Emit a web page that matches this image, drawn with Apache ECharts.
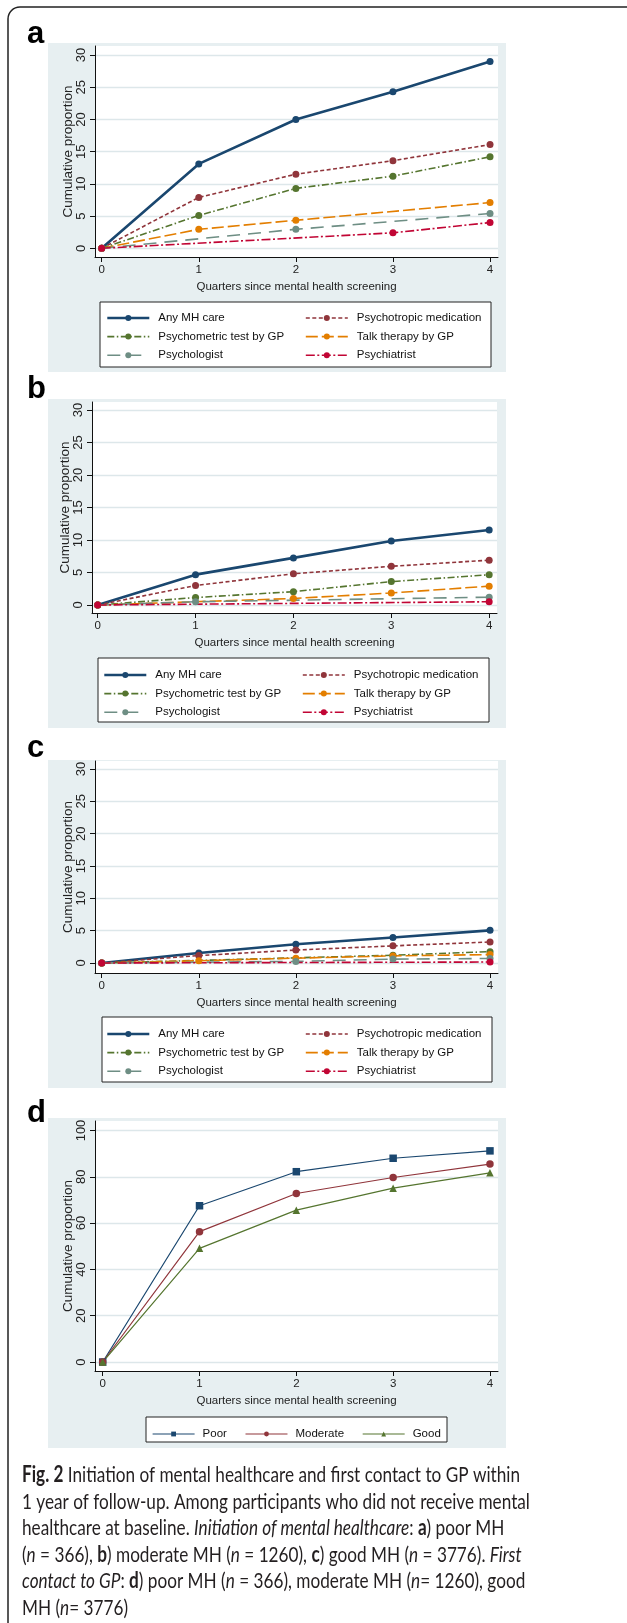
<!DOCTYPE html>
<html>
<head>
<meta charset="utf-8">
<script src="https://cdn.jsdelivr.net/npm/echarts@6/dist/echarts.min.js"></script>
<style>
  html, body { margin: 0; padding: 0; background: #fff; }
  #chart { width: 627px; height: 1623px; }
</style>
</head>
<body>
<div id="chart"></div>
<script>
// x categories (quarters) and tick labels
const QUARTERS = [0, 1, 2, 3, 4];
const Y_TICKS_ABC = [0, 5, 10, 15, 20, 25, 30];
const Y_TICKS_D = [0, 20, 40, 60, 80, 100];

const NAMES = ['Any MH care', 'Psychotropic medication', 'Psychometric test by GP',
               'Talk therapy by GP', 'Psychologist', 'Psychiatrist'];
const NAMES_D = ['Poor', 'Moderate', 'Good'];

// panel a: poor MH (null = no marker, line drawn through)
const a_any     = [0, 13.1, 20.0, 24.3, 29.0];
const a_med     = [0, 7.9, 11.5, 13.6, 16.1];
const a_test    = [0, 5.1, 9.3, 11.2, 14.2];
const a_talk    = [0, 2.95, 4.35, null, 7.1];
const a_psychol = [0, null, 2.95, null, 5.4];
const a_psychia = [0, null, null, 2.4, 4.0];

// panel b: moderate MH
const b_any     = [0, 4.67, 7.25, 9.85, 11.55];
const b_med     = [0, 3.0, 4.8, 5.95, 6.9];
const b_test    = [0, 1.15, 2.05, 3.6, 4.65];
const b_talk    = [0, null, 1.0, 1.85, 2.9];
const b_psychol = [0, 0.5, null, null, 1.2];
const b_psychia = [0, null, null, null, 0.5];

// panel c: good MH
const c_any     = [0, 1.55, 2.9, 3.95, 5.05];
const c_med     = [0, 1.15, 2.0, 2.65, 3.25];
const c_test    = [0, null, null, 1.2, 1.75];
const c_talk    = [0, 0.35, 0.75, 1.1, 1.3];
const c_psychol = [0, null, 0.25, 0.6, 0.7];
const c_psychia = [0, null, null, null, 0.15];

// panel d: first contact to GP
const d_poor     = [0, 67.5, 82.2, 88.0, 91.2];
const d_moderate = [0, 56.3, 72.8, 79.7, 85.5];
const d_good     = [0, 49.1, 65.6, 75.1, 81.7];

const PANEL_VALUES = [
  [a_any, a_med, a_test, a_talk, a_psychol, a_psychia],
  [b_any, b_med, b_test, b_talk, b_psychol, b_psychia],
  [c_any, c_med, c_test, c_talk, c_psychol, c_psychia]
];
const D_VALUES = [d_poor, d_moderate, d_good];

const X_TITLE = 'Quarters since mental health screening';
const Y_TITLE = 'Cumulative proportion';

// styles (Stata s2color)
const FONT = '"Liberation Sans", Arial, sans-serif';
const COLORS = ['#1a476f', '#90353b', '#55752f', '#e37e00', '#6e8e84', '#c10534'];
const DASHES = ['solid', [4, 2.5], [7, 2.5, 1.5, 2.5], [12, 4], [13, 8], [9, 2.5, 2, 2.5]];
const WIDTHS = [2.6, 1.6, 1.6, 1.6, 1.6, 1.6];
const COLORS_D = ['#1a476f', '#90353b', '#55752f'];
const SYMBOLS_D = ['rect', 'circle', 'triangle'];
const BG = '#e7eff1';
const GRIDLINE = '#dde7ea';

// layout of the four panels
const PANELS = [
  { bg: [48, 43, 458, 329], grid: [95, 46, 403, 211], x: [-0.069, 4.082], y: [-1.35, 31.4], ticks: Y_TICKS_ABC,
    label: 'a', labelY: 34, box: [100, 302, 391, 65], legTop: 311, col1: 106, col2: 305 },
  { bg: [48, 399, 458, 329], grid: [92, 402, 405, 211], x: [-0.058, 4.08], y: [-1.23, 31.23], ticks: Y_TICKS_ABC,
    label: 'b', labelY: 389.5, box: [98, 658, 391, 64], legTop: 668, col1: 103, col2: 302 },
  { bg: [48, 760, 458, 328], grid: [95, 761, 403, 212], x: [-0.069, 4.082], y: [-1.546, 31.24], ticks: Y_TICKS_ABC,
    label: 'c', labelY: 748.5, box: [102, 1017, 390, 65], legTop: 1027, col1: 106, col2: 305 },
  { bg: [48, 1118, 458, 330], grid: [95, 1121, 403, 250], x: [-0.0795, 4.083], y: [-3.88, 104.1], ticks: Y_TICKS_D,
    label: 'd', labelY: 1113.5, box: [146, 1417, 301, 25], legTop: 1427, col1: 152 }
];

// caption, split into lines of [style, text] runs
const CAPTION = [
  [['b', 'Fig. 2'], ['r', ' Initiation of mental healthcare and first contact to GP within']],
  [['r', '1 year of follow-up. Among participants who did not receive mental']],
  [['r', 'healthcare at baseline. '], ['i', 'Initiation of mental healthcare'], ['r', ': '], ['b', 'a'], ['r', ') poor MH']],
  [['r', '('], ['i', 'n'], ['r', ' = 366), '], ['b', 'b'], ['r', ') moderate MH ('], ['i', 'n'], ['r', ' = 1260), '],
   ['b', 'c'], ['r', ') good MH ('], ['i', 'n'], ['r', ' = 3776). '], ['i', 'First']],
  [['i', 'contact to GP'], ['r', ': '], ['b', 'd'], ['r', ') poor MH ('], ['i', 'n'], ['r', ' = 366), moderate MH ('],
   ['i', 'n'], ['r', '= 1260), good']],
  [['r', 'MH ('], ['i', 'n'], ['r', '= 3776)']]
];
const CAP_FONT = 'Lato';
const CAP_SIZE = 22;
const CAP_WIDTH = 498;

function measureRuns(runs) {
  const ctx = document.createElement('canvas').getContext('2d');
  let w = 0;
  runs.forEach(function (r) {
    ctx.font = (r[0] === 'b' ? 'bold ' : '') + (r[0] === 'i' ? 'italic ' : '') + CAP_SIZE + 'px ' + CAP_FONT;
    w += ctx.measureText(r[1]).width;
  });
  return w;
}

var myChart = echarts.init(document.getElementById('chart'));

const grids = [], xAxes = [], yAxes = [], series = [], legends = [], graphics = [];

// outer frame
graphics.push({ type: 'rect', shape: { x: 8, y: 7, width: 680, height: 1680, r: 12 },
  style: { fill: 'none', stroke: '#222', lineWidth: 1.5 }, z: 0 });

PANELS.forEach(function (P, i) {
  graphics.push({ type: 'rect', shape: { x: P.bg[0], y: P.bg[1], width: P.bg[2], height: P.bg[3] },
    style: { fill: BG }, z: -5 });
  graphics.push({ type: 'text', x: 27, y: P.labelY,
    style: { text: P.label, font: 'bold 31px ' + FONT, fill: '#000', verticalAlign: 'middle' } });
  graphics.push({ type: 'rect', shape: { x: P.box[0], y: P.box[1], width: P.box[2], height: P.box[3] },
    style: { fill: '#fff', stroke: '#222', lineWidth: 1 }, z: 1 });

  grids.push({ left: P.grid[0], top: P.grid[1], width: P.grid[2], height: P.grid[3],
    show: true, backgroundColor: '#fff', borderWidth: 0, outerBoundsMode: 'none' });

  const axisText = { color: '#222', fontSize: 11.5, fontFamily: FONT };
  xAxes.push({
    type: 'value', gridIndex: i, min: P.x[0], max: P.x[1],
    axisLine: { show: true, onZero: false, lineStyle: { color: '#111', width: 1 } },
    axisTick: { show: true, length: 5, customValues: QUARTERS, lineStyle: { color: '#111' } },
    axisLabel: Object.assign({ customValues: QUARTERS, margin: 13, verticalAlign: 'middle', align: 'center' }, axisText),
    splitLine: { show: false },
    name: X_TITLE, nameLocation: 'middle', nameGap: 30, nameMoveOverlap: false,
    nameTextStyle: Object.assign({ verticalAlign: 'middle', align: 'center' }, axisText)
  });
  yAxes.push({
    type: 'value', gridIndex: i, min: P.y[0], max: P.y[1],
    axisLine: { show: true, onZero: false, lineStyle: { color: '#111', width: 1 } },
    axisTick: { show: true, length: 5, customValues: P.ticks, lineStyle: { color: '#111' } },
    axisLabel: Object.assign({ customValues: P.ticks, rotate: 90, margin: 14, verticalAlign: 'middle', align: 'center' },
      axisText, { fontSize: 13 }),
    splitLine: { show: true, lineStyle: { color: GRIDLINE, width: 1.3 } },
    name: Y_TITLE, nameLocation: 'middle', nameRotate: 90, nameGap: 27, nameMoveOverlap: false,
    nameTextStyle: Object.assign({ verticalAlign: 'middle', align: 'center' }, axisText, { fontSize: 13.5 })
  });
});

const legendText = { fontSize: 11.5, fontFamily: FONT, color: '#111', lineHeight: 14, padding: [0, 0, 0, 4] };

PANEL_VALUES.forEach(function (vals, p) {
  vals.forEach(function (v, k) {
    series.push({
      name: NAMES[k], type: 'line', xAxisIndex: p, yAxisIndex: p,
      data: QUARTERS.map(function (q, j) { return [q, v[j]]; }),
      connectNulls: true, symbol: 'circle', symbolSize: 7,
      itemStyle: { color: COLORS[k] },
      lineStyle: { color: COLORS[k], width: WIDTHS[k], type: DASHES[k] }
    });
  });
  const P = PANELS[p];
  [[0, 2, 4, P.col1], [1, 3, 5, P.col2]].forEach(function (c) {
    legends.push({
      data: [NAMES[c[0]], NAMES[c[1]], NAMES[c[2]]], orient: 'vertical', left: c[3], top: P.legTop,
      itemWidth: 42, itemHeight: 7.5, itemGap: 4.6, padding: 0, selectedMode: false,
      textStyle: legendText, lineStyle: { width: 'inherit' }, z: 5
    });
  });
});

D_VALUES.forEach(function (v, k) {
  series.push({
    name: NAMES_D[k], type: 'line', xAxisIndex: 3, yAxisIndex: 3,
    data: QUARTERS.map(function (q, j) { return [q, v[j]]; }),
    symbol: SYMBOLS_D[k], symbolSize: 7.5,
    itemStyle: { color: COLORS_D[k] },
    lineStyle: { color: COLORS_D[k], width: 1.2 }
  });
});
legends.push({
  data: NAMES_D, orient: 'horizontal', left: PANELS[3].col1, top: PANELS[3].legTop,
  itemWidth: 42, itemHeight: 6, itemGap: 18, padding: 0, selectedMode: false,
  textStyle: Object.assign({}, legendText, { padding: [0, 0, 0, 3] }), lineStyle: { width: 'inherit' }, z: 5
});

// caption
const capScale = CAP_WIDTH / measureRuns(CAPTION[0]);
const capRich = {
  r: { fontFamily: CAP_FONT, fontSize: CAP_SIZE, lineHeight: 26.6, fill: '#231f20' },
  b: { fontFamily: CAP_FONT, fontSize: CAP_SIZE, lineHeight: 26.6, fill: '#231f20', fontWeight: 'bold' },
  i: { fontFamily: CAP_FONT, fontSize: CAP_SIZE, lineHeight: 26.6, fill: '#231f20', fontStyle: 'italic' }
};
const capText = CAPTION.map(function (line) {
  return line.map(function (r) { return '{' + r[0] + '|' + r[1] + '}'; }).join('');
}).join('\n');
graphics.push({ type: 'text', x: 22, y: 1461.7, scaleX: capScale,
  style: { text: capText, rich: capRich, fontFamily: CAP_FONT, fontSize: CAP_SIZE, lineHeight: 26.6, fill: '#231f20' } });

myChart.setOption({
  animation: false,
  backgroundColor: '#fff',
  textStyle: { fontFamily: FONT },
  grid: grids,
  xAxis: xAxes,
  yAxis: yAxes,
  legend: legends,
  series: series,
  graphic: graphics
});
</script>
</body>
</html>
